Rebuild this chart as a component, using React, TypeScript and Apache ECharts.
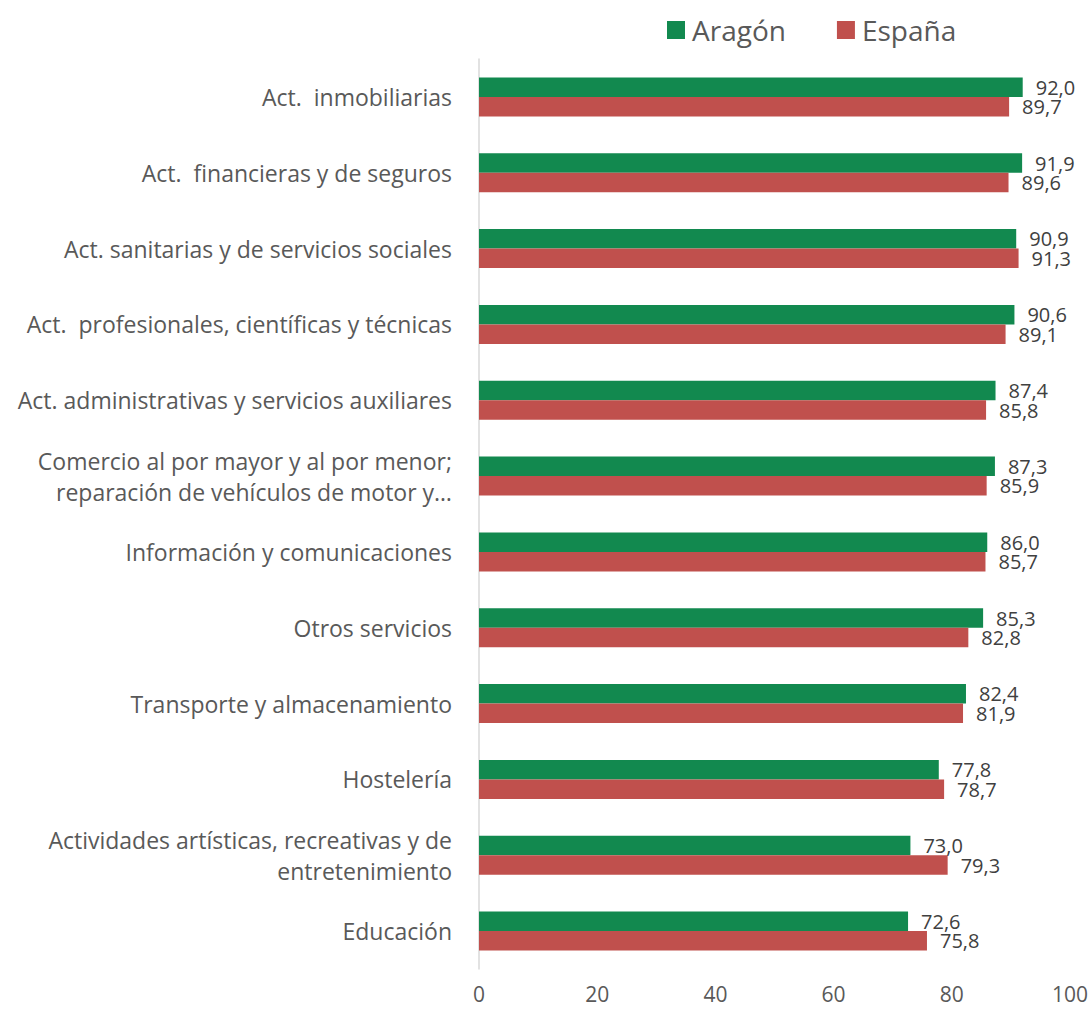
import React, { useEffect, useRef } from "react";
import * as echarts from "echarts";

const categories = [
  "Act.  inmobiliarias",
  "Act.  financieras y de seguros",
  "Act. sanitarias y de servicios sociales",
  "Act.  profesionales, científicas y técnicas",
  "Act. administrativas y servicios auxiliares",
  "Comercio al por mayor y al por menor;\nreparación de vehículos de motor y…",
  "Información y comunicaciones",
  "Otros servicios",
  "Transporte y almacenamiento",
  "Hostelería",
  "Actividades artísticas, recreativas y de\nentretenimiento",
  "Educación",
];
const aragon = [92.0, 91.9, 90.9, 90.6, 87.4, 87.3, 86.0, 85.3, 82.4, 77.8, 73.0, 72.6];
const espana = [89.7, 89.6, 91.3, 89.1, 85.8, 85.9, 85.7, 82.8, 81.9, 78.7, 79.3, 75.8];
const seriesNames = ["Aragón", "España"];
const colors = ["#12894F", "#C0504D"];

const FONT = "'Open Sans', sans-serif";
const fmt = (v: number) => v.toFixed(1).replace(".", ",");

export default function App() {
  const ref = useRef<HTMLDivElement>(null);
  useEffect(() => {
    if (!ref.current) return;
    const chart = echarts.init(ref.current, undefined, { renderer: "svg" });
    const mkSeries = (name: string, data: number[], color: string, dy: number) => ({
      name,
      type: "bar",
      data,
      barWidth: 19.5,
      barGap: "0%",
      itemStyle: { color },
      label: {
        show: true,
        position: "right",
        distance: 13,
        offset: [0, dy],
        formatter: (p: any) => fmt(p.value),
        color: "#404040",
        fontSize: 20,
        lineHeight: 19,
        fontFamily: FONT,
      },
    });
    chart.setOption({
      animation: false,
      textStyle: { fontFamily: FONT },
      legend: {
        data: seriesNames,
        top: 11,
        left: 662,
        itemWidth: 18,
        itemHeight: 18,
        itemGap: 51,
        icon: "rect",
        textStyle: { fontSize: 28, color: "#595959", fontFamily: FONT, padding: [0, 0, 0, 2] },
      },
      grid: { left: 479, right: 18, top: 59, bottom: 42, containLabel: false },
      xAxis: {
        type: "value",
        min: 0,
        max: 100,
        interval: 20,
        splitLine: { show: false },
        axisLine: { show: false },
        axisTick: { show: false },
        axisLabel: { fontSize: 21, color: "#595959", margin: 14, fontFamily: FONT },
      },
      yAxis: {
        type: "category",
        data: categories,
        inverse: true,
        axisLine: { show: true, lineStyle: { color: "#D9D9D9", width: 1.5 } },
        axisTick: { show: false },
        axisLabel: {
          fontSize: 23,
          color: "#595959",
          margin: 27,
          lineHeight: 31,
          align: "right",
          fontFamily: FONT,
        },
      },
      series: [
        mkSeries(seriesNames[0], aragon, colors[0], 0),
        mkSeries(seriesNames[1], espana, colors[1], 0),
      ],
    });
    return () => chart.dispose();
  }, []);
  return (
    <div
      ref={ref}
      style={{ position: "absolute", left: 0, top: 0, width: 1091, height: 1011, background: "#fff" }}
    />
  );
}
